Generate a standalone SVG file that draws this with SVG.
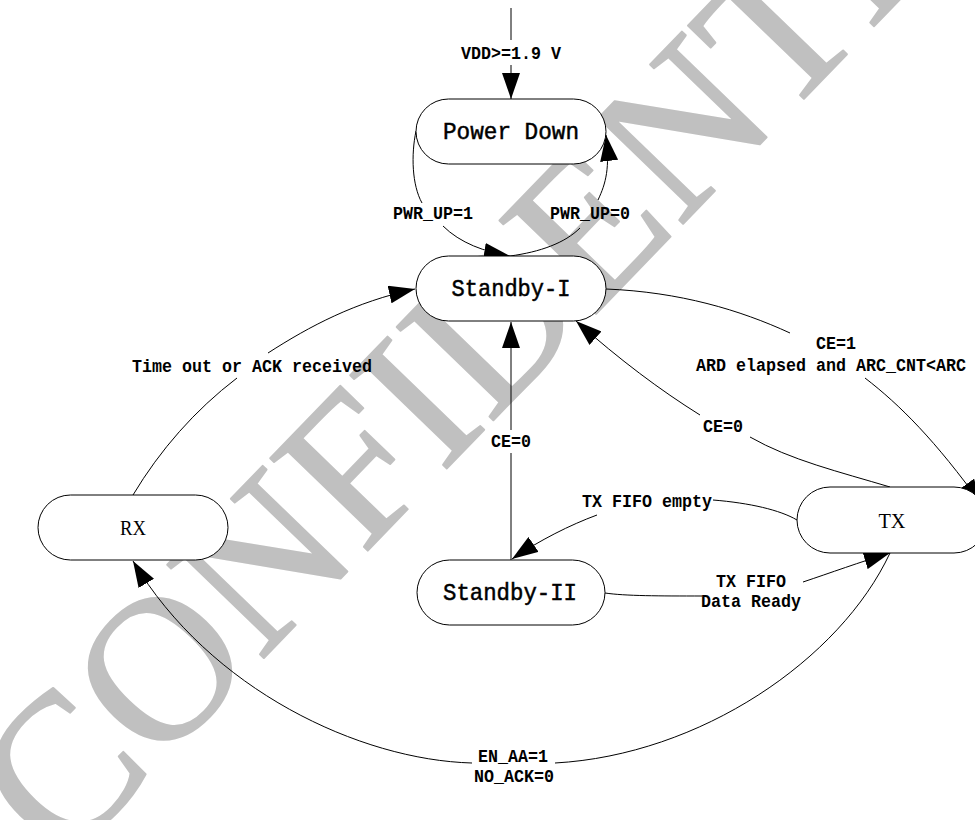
<svg xmlns="http://www.w3.org/2000/svg" width="975" height="820" viewBox="0 0 975 820">
<style>
.wm{font-family:"Liberation Serif","Times New Roman",serif;font-size:205px;fill:#c0c0c0;stroke:#c0c0c0;stroke-width:2;stroke-linejoin:round}
.node rect{fill:#fff;stroke:#000;stroke-width:1}
.nt{font-family:"Liberation Mono","Courier New",monospace;font-size:24px;fill:#000;stroke:#000;stroke-width:0.5;text-anchor:middle}
.st{font-family:"Liberation Serif","Times New Roman",serif;font-size:22px;fill:#000;text-anchor:middle}
.lb{font-family:"Liberation Mono","Courier New",monospace;font-size:18px;font-weight:bold;fill:#000;text-anchor:middle}
#edges path{fill:none;stroke:#000;stroke-width:1}
#edges path.a{marker-end:url(#ah)}
</style>
<defs>
<marker id="ah" markerUnits="userSpaceOnUse" viewBox="0 0 26 18" markerWidth="26" markerHeight="18" refX="26" refY="9" orient="auto"><path d="M0,0 L26,9 L0,18 z" fill="#000"/></marker>
</defs>
<rect width="975" height="820" fill="#fff"/>
<text class="wm" transform="translate(62,867) rotate(-46)">CONFIDENTIAL</text>
<g id="edges">
<path d="M511,8 L511,40"/>
<path class="a" d="M511,65 L511,99"/>
<path d="M416,131 C411,155 412,185 422,203"/>
<path class="a" d="M443,226 C460,243 485,252 510,256"/>
<path d="M510,256 C540,252 565,243 580,228"/>
<path class="a" d="M598,200 C606,183 610,168 606,135"/>
<path d="M606,289 C680,292 740,310 790,333"/>
<path class="a" d="M865,378 C900,405 935,440 982,505"/>
<path d="M890,487 C840,472 790,460 750,437"/>
<path class="a" d="M700,415 C660,390 620,360 576,321"/>
<path d="M511,560 L511,453"/>
<path class="a" d="M511,430 L511,322"/>
<path d="M797,520 C780,510 750,503 713,500"/>
<path class="a" d="M597,515 C570,525 540,540 512,559"/>
<path d="M605,593 C625,596 660,596 702,596"/>
<path class="a" d="M803,582 C830,573 860,562 890,553"/>
<path d="M890,553 C840,660 700,755 555,763"/>
<path class="a" d="M472,763 C360,760 210,690 133,561"/>
<path d="M133,495 C160,450 195,410 237,378"/>
<path class="a" d="M268,353 C310,326 355,302 415,289"/>
</g>
<g id="labels">
<text class="lb" x="511" y="59" textLength="100" lengthAdjust="spacingAndGlyphs">VDD&gt;=1.9 V</text>
<text class="lb" x="433" y="219" textLength="80" lengthAdjust="spacingAndGlyphs">PWR_UP=1</text>
<text class="lb" x="590" y="219" textLength="80" lengthAdjust="spacingAndGlyphs">PWR_UP=0</text>
<text class="lb" x="836" y="349" textLength="40" lengthAdjust="spacingAndGlyphs">CE=1</text>
<text class="lb" x="831" y="371" textLength="270" lengthAdjust="spacingAndGlyphs">ARD elapsed and ARC_CNT&lt;ARC</text>
<text class="lb" x="723" y="432" textLength="40" lengthAdjust="spacingAndGlyphs">CE=0</text>
<text class="lb" x="511" y="447" textLength="40" lengthAdjust="spacingAndGlyphs">CE=0</text>
<text class="lb" x="252" y="372" textLength="240" lengthAdjust="spacingAndGlyphs">Time out or ACK received</text>
<text class="lb" x="647" y="507" textLength="130" lengthAdjust="spacingAndGlyphs">TX FIFO empty</text>
<text class="lb" x="751" y="587" textLength="70" lengthAdjust="spacingAndGlyphs">TX FIFO</text>
<text class="lb" x="751" y="607" textLength="100" lengthAdjust="spacingAndGlyphs">Data Ready</text>
<text class="lb" x="513" y="762" textLength="70" lengthAdjust="spacingAndGlyphs">EN_AA=1</text>
<text class="lb" x="514" y="782" textLength="80" lengthAdjust="spacingAndGlyphs">NO_ACK=0</text>
</g>
<g id="power-down" class="node"><rect x="416" y="99" width="190" height="65" rx="32.5"/><text class="nt" x="511" y="139" textLength="136" lengthAdjust="spacingAndGlyphs">Power Down</text></g>
<g id="standby-1" class="node"><rect x="416" y="256" width="190" height="65" rx="32.5"/><text class="nt" x="511" y="296" textLength="119" lengthAdjust="spacingAndGlyphs">Standby-I</text></g>
<g id="standby-2" class="node"><rect x="417" y="560" width="188" height="65" rx="32.5"/><text class="nt" x="510" y="600" textLength="134" lengthAdjust="spacingAndGlyphs">Standby-II</text></g>
<g id="rx" class="node"><rect x="38" y="495" width="190" height="65" rx="32.5"/><text class="st" x="133" y="535" textLength="26" lengthAdjust="spacingAndGlyphs">RX</text></g>
<g id="tx" class="node"><rect x="797" y="487" width="190" height="66" rx="33"/><text class="st" x="892" y="528" textLength="27" lengthAdjust="spacingAndGlyphs">TX</text></g>
</svg>
